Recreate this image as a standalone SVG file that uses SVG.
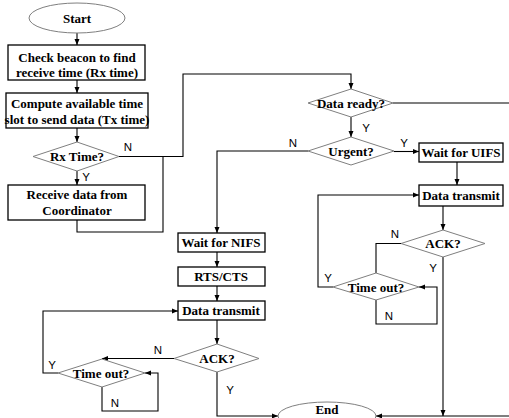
<svg xmlns="http://www.w3.org/2000/svg" width="509" height="418" viewBox="0 0 509 418">
<style>
.box{fill:#fff;stroke:#000;stroke-width:1.3}
.dia{fill:#fff;stroke:#7f7f7f;stroke-width:1}
.ell{fill:#fff;stroke:#7f7f7f;stroke-width:1}
.t{font-family:"Liberation Serif","Times New Roman",serif;font-weight:bold;font-size:13px;text-anchor:middle;fill:#000}
.l{font-family:"Liberation Sans",Arial,sans-serif;font-size:11.5px;text-anchor:middle;fill:#000}
.c{fill:none;stroke:#000;stroke-width:1.1}
</style>
<defs>
<marker id="ah" markerWidth="6" markerHeight="6" refX="6" refY="3" orient="auto" markerUnits="userSpaceOnUse">
<path d="M0,0.5 L6,3 L0,5.5 z" fill="#000"/>
</marker>
</defs>
<rect width="509" height="418" fill="#fff"/>
<g id="connectors">
<path class="c" d="M77,33 V45" marker-end="url(#ah)"/>
<path class="c" d="M77,80 V93" marker-end="url(#ah)"/>
<path class="c" d="M77,128 V142" marker-end="url(#ah)"/>
<path class="c" d="M77,171 V185" marker-end="url(#ah)"/>
<path class="c" d="M119,156.5 H183 V74 H351 V89" marker-end="url(#ah)"/>
<path class="c" d="M77,220 V232 H163 V156.5"/>
<path class="c" d="M351,117 V137" marker-end="url(#ah)"/>
<path class="c" d="M393,103 H515 V416 H376" marker-end="url(#ah)"/>
<path class="c" d="M394,151.5 H419" marker-end="url(#ah)"/>
<path class="c" d="M308,151 H217 V233" marker-end="url(#ah)"/>
<path class="c" d="M457,162 V185" marker-end="url(#ah)"/>
<path class="c" d="M443,206 V230" marker-end="url(#ah)"/>
<path class="c" d="M401,243.5 H376 V273"/>
<path class="c" d="M333,287 H318 V195 H419" marker-end="url(#ah)"/>
<path class="c" d="M376,300 V324 H437 V287 H419" marker-end="url(#ah)"/>
<path class="c" d="M443,257 V416" marker-end="url(#ah)"/>
<path class="c" d="M217,252 V267" marker-end="url(#ah)"/>
<path class="c" d="M217,286 V301" marker-end="url(#ah)"/>
<path class="c" d="M217,320 V344" marker-end="url(#ah)"/>
<path class="c" d="M174,358.5 H102" marker-end="url(#ah)"/>
<path class="c" d="M58,373 H43 V311 H178" marker-end="url(#ah)"/>
<path class="c" d="M102,387 V411 H158 V373 H145" marker-end="url(#ah)"/>
<path class="c" d="M217,372 V416 H278" marker-end="url(#ah)"/>
</g>
<g id="start"><ellipse class="ell" cx="77" cy="18" rx="48" ry="15"/><text class="t" x="77" y="23">Start</text></g>
<g id="check"><rect class="box" x="8" y="45" width="137" height="35"/><text class="t" x="77" y="61.5">Check beacon to find</text><text class="t" x="77" y="77">receive time (Rx time)</text></g>
<g id="compute"><rect class="box" x="6" y="93" width="142" height="35"/><text class="t" x="77" y="108">Compute available time</text><text class="t" x="77" y="124">slot to send data (Tx time)</text></g>
<g id="rxtime"><polygon class="dia" points="77,142 119,156.5 77,171 33,156.5"/><text class="t" x="77" y="161">Rx Time?</text></g>
<g id="receive"><rect class="box" x="8" y="185" width="137" height="35"/><text class="t" x="77" y="198.5">Receive data from</text><text class="t" x="77" y="215">Coordinator</text></g>
<g id="dataready"><polygon class="dia" points="351,89 393,103 351,117 308,103"/><text class="t" x="351" y="108">Data ready?</text></g>
<g id="urgent"><polygon class="dia" points="351,137 394,151 351,165 308,151"/><text class="t" x="351" y="156">Urgent?</text></g>
<g id="uifs"><rect class="box" x="419" y="143" width="84" height="19"/><text class="t" x="461" y="157">Wait for UIFS</text></g>
<g id="datatx-r"><rect class="box" x="419" y="185" width="84" height="21"/><text class="t" x="461" y="200">Data transmit</text></g>
<g id="ack-r"><polygon class="dia" points="443,230 485,243.5 443,257 401,243.5"/><text class="t" x="443" y="248">ACK?</text></g>
<g id="timeout-r"><polygon class="dia" points="376,273 419,287 376,300 333,287"/><text class="t" x="376" y="291.5">Time out?</text></g>
<g id="nifs"><rect class="box" x="178" y="233" width="87" height="19"/><text class="t" x="221" y="247">Wait for NIFS</text></g>
<g id="rtscts"><rect class="box" x="178" y="267" width="87" height="19"/><text class="t" x="221" y="281">RTS/CTS</text></g>
<g id="datatx-l"><rect class="box" x="178" y="301" width="87" height="19"/><text class="t" x="221" y="315">Data transmit</text></g>
<g id="ack-l"><polygon class="dia" points="217,344 259,358.5 217,372 174,358.5"/><text class="t" x="217" y="363">ACK?</text></g>
<g id="timeout-l"><polygon class="dia" points="102,359 145,373 102,387 58,373"/><text class="t" x="101" y="377.5">Time out?</text></g>
<g id="end"><ellipse class="ell" cx="327" cy="416" rx="49" ry="14"/><text class="t" x="327" y="414">End</text></g>
<g id="labels">
<text class="l" x="128" y="151">N</text>
<text class="l" x="86" y="181">Y</text>
<text class="l" x="293" y="147">N</text>
<text class="l" x="366" y="132">Y</text>
<text class="l" x="404" y="147">Y</text>
<text class="l" x="395" y="238">N</text>
<text class="l" x="328" y="282">Y</text>
<text class="l" x="389" y="320">N</text>
<text class="l" x="433" y="272">Y</text>
<text class="l" x="158" y="354">N</text>
<text class="l" x="52" y="369">Y</text>
<text class="l" x="115" y="407">N</text>
<text class="l" x="230" y="394">Y</text>
</g>
</svg>
